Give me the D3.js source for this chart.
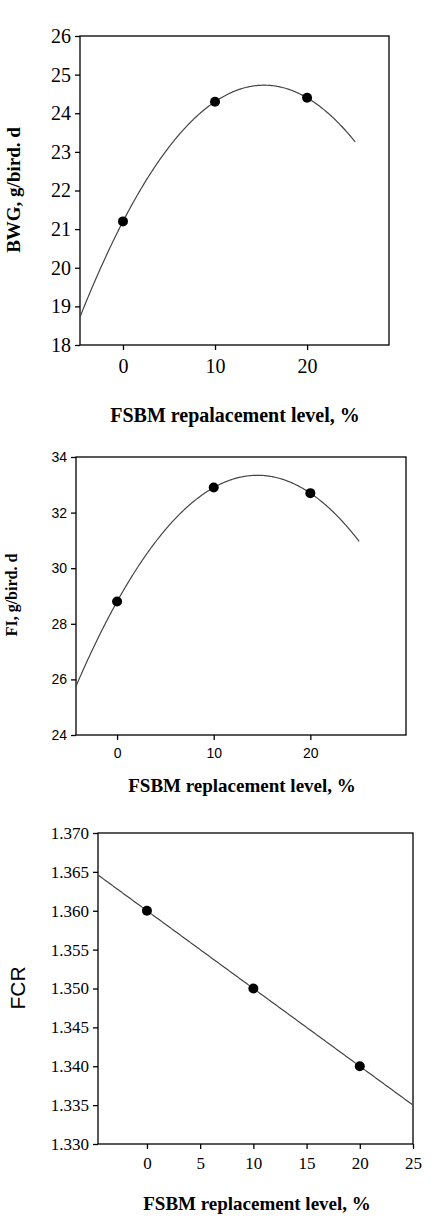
<!DOCTYPE html><html><head><meta charset="utf-8"><script src="https://cdn.jsdelivr.net/npm/d3@7"></script>
<style>body{margin:0;background:#fff}</style></head><body><svg id="c" width="435" height="1226"></svg>
<script>
// Data
const levels = [0, 10, 20];
const bwg = [21.2, 24.3, 24.4];
const fi = [28.8, 32.9, 32.7];
const fcr = [1.360, 1.350, 1.340];
const bwgTicksY = [18,19,20,21,22,23,24,25,26];
const fiTicksY = [24,26,28,30,32,34];
const fcrTicksY = [1.330,1.335,1.340,1.345,1.350,1.355,1.360,1.365,1.370];
const ticksX12 = [0,10,20];
const ticksX3 = [0,5,10,15,20,25];

function fit(xs, ys, deg){
  const n=deg+1, A=[], B=[];
  for(let i=0;i<n;i++){A.push([]);for(let j=0;j<n;j++)A[i].push(d3.sum(xs,x=>Math.pow(x,i+j)));B.push(d3.sum(xs,(x,k)=>ys[k]*Math.pow(x,i)));}
  for(let i=0;i<n;i++){for(let k=i+1;k<n;k++){const f=A[k][i]/A[i][i];for(let j=i;j<n;j++)A[k][j]-=f*A[i][j];B[k]-=f*B[i];}}
  const c=new Array(n);for(let i=n-1;i>=0;i--){let s=B[i];for(let j=i+1;j<n;j++)s-=A[i][j]*c[j];c[i]=s/A[i][i];}
  return x=>c.reduce((s,ci,i)=>s+ci*Math.pow(x,i),0);
}
const svg=d3.select("#c");
function panel(o){
  const x=d3.scaleLinear().domain(o.xd).range([o.l,o.r]);
  const y=d3.scaleLinear().domain(o.yd).range([o.b,o.t]);
  const g=svg.append("g");
  g.append("rect").attr("x",o.l).attr("y",o.t).attr("width",o.r-o.l).attr("height",o.b-o.t).attr("fill","none").attr("stroke","#000").attr("stroke-width",1.3);
  const ax=g.append("g").attr("transform",`translate(0,${o.b})`).call(d3.axisBottom(x).tickValues(o.tx).tickSize(5).tickPadding(o.xpad).tickFormat(d3.format("d")));
  const ay=g.append("g").attr("transform",`translate(${o.l},0)`).call(d3.axisLeft(y).tickValues(o.ty).tickSize(5).tickPadding(4).tickFormat(d3.format(o.yf)));
  [ax,ay].forEach(a=>{a.select(".domain").remove();a.selectAll("line").attr("stroke-width",1.3);a.selectAll("text").attr("font-family",o.tf).attr("font-size",o.ts).attr("fill","#000");});
  const f=fit(levels,o.ys,o.deg);
  const pts=d3.range(o.cx[0],o.cx[1]+0.001,0.1).map(v=>[v,f(v)]);
  g.append("path").attr("d",d3.line().x(d=>x(d[0])).y(d=>y(d[1]))(pts)).attr("fill","none").attr("stroke","#444").attr("stroke-width",1.2);
  g.selectAll("circle.p").data(levels).join("circle").attr("cx",d=>x(d)).attr("cy",(d,i)=>y(o.ys[i])).attr("r",5).attr("fill","#000");
  g.append("text").attr("x",o.xtx).attr("y",o.xty).attr("text-anchor","middle").attr("font-family","Liberation Serif").attr("font-weight","bold").attr("font-size",o.xts).text("FSBM "+o.xword+" level, %");
  g.append("text").attr("transform",`translate(${o.ylx},${o.yly}) rotate(-90)`).attr("text-anchor","middle").attr("font-family",o.ylf).attr("font-weight",o.ylw).attr("font-size",o.yls).text(o.ylabel);
}
panel({l:80,r:389,t:36,b:345,xd:[-4.67,28.9],yd:[18,26],tx:ticksX12,ty:bwgTicksY,yf:"d",tf:"Liberation Serif",ts:20,xpad:9,ys:bwg,deg:2,cx:[-4.67,25.3],xtx:235,xty:422,xts:20,xword:"repalacement",ylx:20,yly:190,ylabel:"BWG, g/bird. d",ylf:"Liberation Serif",ylw:"bold",yls:19});
panel({l:76,r:406,t:457,b:735,xd:[-4.25,29.9],yd:[24,34],tx:ticksX12,ty:fiTicksY,yf:"d",tf:"Liberation Sans",ts:14,xpad:8,ys:fi,deg:2,cx:[-4.25,25.1],xtx:242,xty:792,xts:19,xword:"replacement",ylx:17,yly:595,ylabel:"FI, g/bird. d",ylf:"Liberation Serif",ylw:"bold",yls:16});
panel({l:98,r:413,t:833,b:1144,xd:[-4.6,25],yd:[1.330,1.370],tx:ticksX3,ty:fcrTicksY,yf:".3f",tf:"Liberation Serif",ts:17,xpad:8,ys:fcr,deg:1,cx:[-4.6,25],xtx:257,xty:1210,xts:19,xword:"replacement",ylx:25,yly:988,ylabel:"FCR",ylf:"Liberation Sans",ylw:"normal",yls:21});
</script></body></html>
